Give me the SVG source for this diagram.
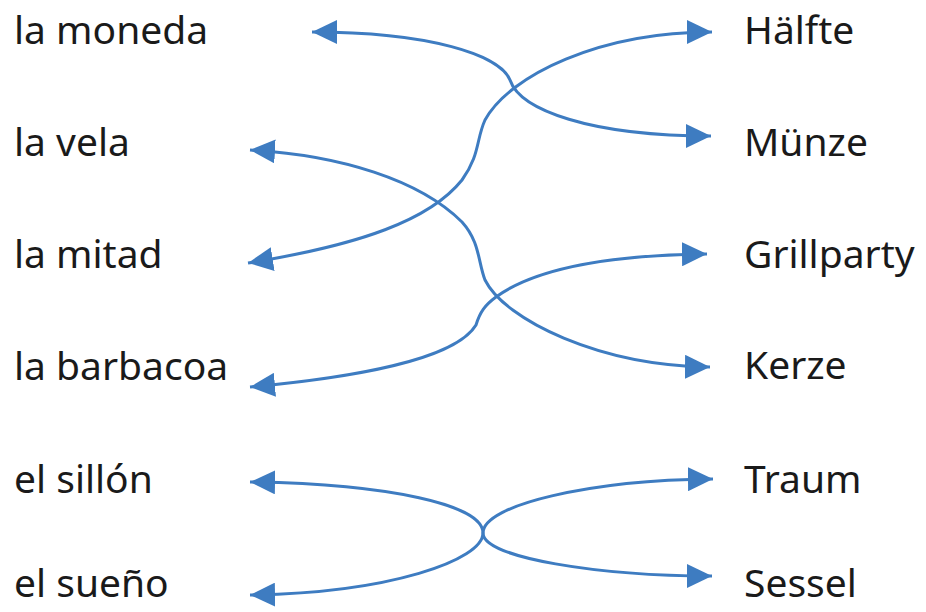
<svg xmlns="http://www.w3.org/2000/svg" width="926" height="612" viewBox="0 0 926 612">
<style>
text{font-family:"Noto Sans","Open Sans","Liberation Sans",sans-serif;font-size:39px;fill:#1a1a1a}
.c{fill:none;stroke:#3e7cc1;stroke-width:3;marker-start:url(#ah);marker-end:url(#ah)}
</style>
<defs>
<marker id="ah" markerUnits="userSpaceOnUse" markerWidth="26" markerHeight="24" refX="25" refY="12" orient="auto-start-reverse">
<path d="M0,0 L25,12 L0,24 z" fill="#3e7cc1"/>
</marker>
</defs>
<rect width="926" height="612" fill="#fff"/>
<g id="left">
<g id="n-moneda"><text x="14" y="44">la moneda</text></g>
<g id="n-vela"><text x="14" y="156">la vela</text></g>
<g id="n-mitad"><text x="14" y="268">la mitad</text></g>
<g id="n-barbacoa"><text x="14" y="380">la barbacoa</text></g>
<g id="n-sillon"><text x="14" y="493">el sillón</text></g>
<g id="n-sueno"><text x="14" y="597">el sueño</text></g>
</g>
<g id="right">
<g id="n-haelfte"><text x="744" y="44">Hälfte</text></g>
<g id="n-muenze"><text x="744" y="156">Münze</text></g>
<g id="n-grillparty"><text x="744" y="268">Grillparty</text></g>
<g id="n-kerze"><text x="744" y="379">Kerze</text></g>
<g id="n-traum"><text x="744" y="493">Traum</text></g>
<g id="n-sessel"><text x="744" y="597">Sessel</text></g>
</g>
<g id="connectors">
<path class="c" d="M312,32 C430,32 500,55 510,80 C520,110 590,136 711,136"/>
<path class="c" d="M248,263 C360,245 430,220 462,180 C480,155 476,140 485,120 C510,75 600,32 712,32"/>
<path class="c" d="M250,150 C340,155 420,180 462,222 C480,242 478,262 485,280 C505,320 600,366 710,367"/>
<path class="c" d="M250,387 C350,378 455,360 476,325 C480,312 485,305 496,297 C540,265 620,255 707,254"/>
<path class="c" d="M250,482 C390,484 483,505 483,533 C483,558 600,576 712,576"/>
<path class="c" d="M713,479 C590,480 483,505 483,533 C483,560 390,593 250,595"/>
</g>
</svg>
